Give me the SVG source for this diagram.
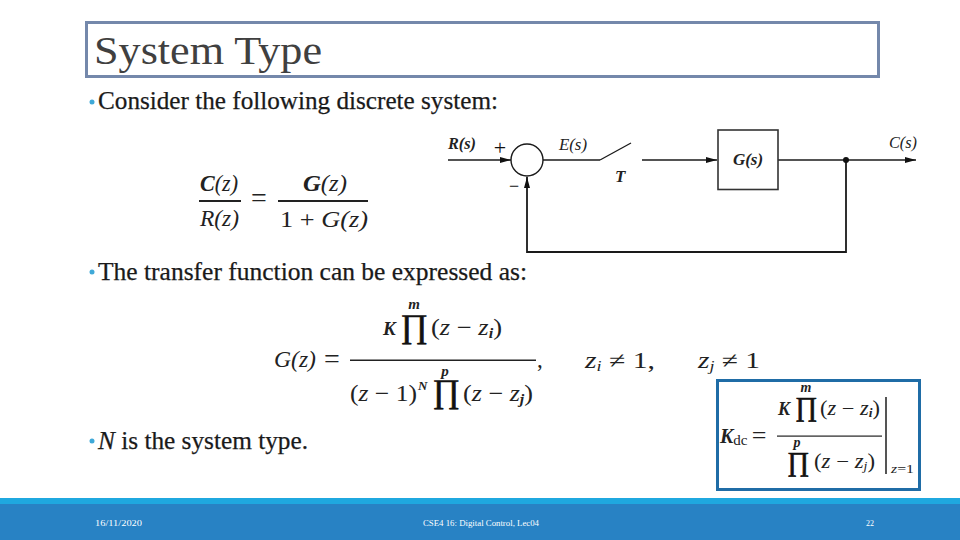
<svg xmlns="http://www.w3.org/2000/svg" width="960" height="540" viewBox="0 0 960 540">
<style>
text{font-family:"Liberation Serif","DejaVu Serif",serif;fill:#111}
.b{font-size:25px;fill:#1a1a1a;stroke:#1a1a1a;stroke-width:.25}
.d{font-size:17px;font-weight:bold;font-style:italic;fill:#222}
.l{font-size:17px;font-style:italic;fill:#222}
.m{font-size:23px;fill:#222}
.s{font-size:23px;font-style:italic;fill:#222}
.f{font-size:8px;fill:#fff}
.p{font-size:33px;fill:#111;stroke:#111;stroke-width:.7}
.ln{fill:none;stroke:#1a1a1a;stroke-width:1.3}
.bul{fill:#3fa9d8}
</style>
<defs>
<marker id="a" markerUnits="userSpaceOnUse" markerWidth="11" markerHeight="7" refX="11" refY="3.5" orient="auto"><path d="M0 0.5L11 3.5L0 6.5z" fill="#111"/></marker>
</defs>
<rect width="960" height="540" fill="#fff"/>
<rect x="86.5" y="22.5" width="792" height="54" fill="#fff" stroke="#7488ab" stroke-width="3"/>
<text x="94" y="64" font-size="41" style="fill:#404040" textLength="228" lengthAdjust="spacingAndGlyphs">System Type</text>

<circle class="bul" cx="92" cy="102" r="2.500"/>
<text class="b" x="98" y="109" textLength="400" lengthAdjust="spacingAndGlyphs">Consider the following discrete system:</text>
<circle class="bul" cx="92" cy="272" r="2.500"/>
<text class="b" x="98" y="280" textLength="429" lengthAdjust="spacingAndGlyphs">The transfer function can be expressed as:</text>
<circle class="bul" cx="92" cy="441" r="2.500"/>
<text class="b" x="98" y="449" textLength="210" lengthAdjust="spacingAndGlyphs"><tspan font-style="italic">N</tspan> is the system type.</text>

<g id="connectors">
<line class="ln" x1="448" y1="160" x2="511" y2="160" marker-end="url(#a)"/>
<line class="ln" x1="543" y1="160" x2="600" y2="160"/>
<line class="ln" x1="600" y1="160" x2="631" y2="143"/>
<line class="ln" x1="642" y1="160" x2="717" y2="160" marker-end="url(#a)"/>
<line class="ln" x1="778" y1="160" x2="916" y2="160" marker-end="url(#a)"/>
<path class="ln" style="stroke-width:1.8" d="M846 160V252H527V177" marker-end="url(#a)"/>
</g>
<g id="summing-junction">
<circle cx="527" cy="160" r="16" fill="#fff" stroke="#1a1a1a" stroke-width="1.400"/>
<text x="500" y="155" font-size="22" text-anchor="middle">+</text>
<text x="514" y="192" font-size="18" text-anchor="middle">−</text>
</g>
<g id="block-g">
<rect x="718" y="130" width="60" height="59.500" fill="#fff" stroke="#333" stroke-width="1.600"/>
<text class="d" x="748" y="165" text-anchor="middle">G(s)</text>
</g>
<g id="node-output"><circle cx="846" cy="160" r="3" fill="#111"/></g>
<g id="labels">
<text class="d" x="448" y="149" textLength="28" lengthAdjust="spacingAndGlyphs">R(s)</text>
<text class="l" x="559" y="150" textLength="28" lengthAdjust="spacingAndGlyphs">E(s)</text>
<text class="d" x="615" y="182">T</text>
<text class="l" x="889" y="148" textLength="28" lengthAdjust="spacingAndGlyphs">C(s)</text>
</g>

<g id="closed-loop-eq">
<text class="s" x="200" y="191" textLength="38" lengthAdjust="spacingAndGlyphs"><tspan font-weight="bold">C</tspan>(z)</text>
<rect x="199" y="200" width="42" height="2" fill="#222"/>
<text class="s" x="200" y="226" textLength="39" lengthAdjust="spacingAndGlyphs">R(z)</text>
<text class="m" x="259" y="207" text-anchor="middle" style="font-size:28px">=</text>
<text class="s" x="303" y="191" textLength="44" lengthAdjust="spacingAndGlyphs"><tspan font-weight="bold">G</tspan>(z)</text>
<rect x="278" y="200" width="90" height="2" fill="#222"/>
<text class="m" x="280" y="227" textLength="88" lengthAdjust="spacingAndGlyphs" xml:space="preserve">1 + <tspan font-style="italic">G(z)</tspan></text>
</g>

<g id="transfer-eq">
<text class="s" x="274" y="367" textLength="42" lengthAdjust="spacingAndGlyphs">G(z)</text>
<text class="m" x="332" y="368" text-anchor="middle" style="font-size:28px">=</text>
<rect x="350" y="359.500" width="186" height="1.500" fill="#222"/>
<text class="m" x="537" y="367">,</text>
<text class="d" x="383" y="335" style="font-size:19px">K</text>
<text class="p" x="414" y="337" text-anchor="middle">∏</text>
<text class="d" x="414" y="309" text-anchor="middle" style="font-size:15px">m</text>
<text class="m" x="431" y="335" textLength="71" lengthAdjust="spacingAndGlyphs" xml:space="preserve">(<tspan font-style="italic">z</tspan> − <tspan font-style="italic">z</tspan><tspan font-style="italic" font-weight="bold" font-size="14" dy="3">i</tspan><tspan dy="-3">)</tspan></text>
<text class="m" x="350" y="401" textLength="67" lengthAdjust="spacingAndGlyphs" xml:space="preserve">(<tspan font-style="italic">z</tspan> − 1)</text>
<text class="d" x="418" y="390" style="font-size:13px">N</text>
<text class="p" x="446" y="402" text-anchor="middle">∏</text>
<text class="d" x="445" y="376" text-anchor="middle" style="font-size:15px">p</text>
<text class="m" x="463" y="401" textLength="70" lengthAdjust="spacingAndGlyphs" xml:space="preserve">(<tspan font-style="italic">z</tspan> − <tspan font-style="italic">z</tspan><tspan font-style="italic" font-weight="bold" font-size="14" dy="3">j</tspan><tspan dy="-3">)</tspan></text>
<text class="m" x="585" y="368" textLength="70" lengthAdjust="spacingAndGlyphs" xml:space="preserve"><tspan font-style="italic">z</tspan><tspan font-style="italic" font-size="14" dy="3">i</tspan><tspan dy="-3"> ≠ 1,</tspan></text>
<text class="m" x="698" y="368" textLength="62" lengthAdjust="spacingAndGlyphs" xml:space="preserve"><tspan font-style="italic">z</tspan><tspan font-style="italic" font-size="14" dy="3">j</tspan><tspan dy="-3"> ≠ 1</tspan></text>
</g>

<g id="kdc-box">
<rect x="717.500" y="380.500" width="202" height="109" fill="#fff" stroke="#1f6ca6" stroke-width="3"/>
<text class="d" x="720" y="443" style="font-size:20px">K<tspan font-style="normal" font-weight="normal" font-size="15" dy="2">dc</tspan></text>
<text class="m" x="759" y="444" text-anchor="middle" style="font-size:26px">=</text>
<rect x="777" y="435.500" width="105" height="1.200" fill="#222"/>
<text class="d" x="778" y="415" style="font-size:18px">K</text>
<text class="p" x="806" y="416" text-anchor="middle" style="font-size:27px">∏</text>
<text class="d" x="806" y="392" text-anchor="middle" style="font-size:14px">m</text>
<text class="m" x="820" y="415" textLength="60" lengthAdjust="spacingAndGlyphs" xml:space="preserve" style="font-size:20px">(<tspan font-style="italic">z</tspan> − <tspan font-style="italic">z</tspan><tspan font-style="italic" font-weight="bold" font-size="12" dy="2">i</tspan><tspan dy="-2">)</tspan></text>
<text class="p" x="798" y="471" text-anchor="middle" style="font-size:27px">∏</text>
<text class="d" x="797" y="447" text-anchor="middle" style="font-size:14px">p</text>
<text class="m" x="814" y="468" textLength="61" lengthAdjust="spacingAndGlyphs" xml:space="preserve" style="font-size:20px">(<tspan font-style="italic">z</tspan> − <tspan font-style="italic">z</tspan><tspan font-style="italic" font-size="12" dy="2">j</tspan><tspan dy="-2">)</tspan></text>
<rect x="885" y="397" width="2" height="77" fill="#555"/>
<text x="891" y="473" font-size="13" font-style="italic" style="fill:#222" textLength="23" lengthAdjust="spacingAndGlyphs">z<tspan font-style="normal">=1</tspan></text>
</g>

<rect y="498" width="960" height="6" fill="#1fa8df"/>
<rect y="504" width="960" height="36" fill="#2882c4"/>
<text class="f" x="95" y="526" textLength="47" lengthAdjust="spacingAndGlyphs">16/11/2020</text>
<text class="f" x="423" y="526" textLength="116" lengthAdjust="spacingAndGlyphs">CSE4 16: Digital Control, Lec04</text>
<text class="f" x="870" y="526" text-anchor="middle">22</text>
</svg>
